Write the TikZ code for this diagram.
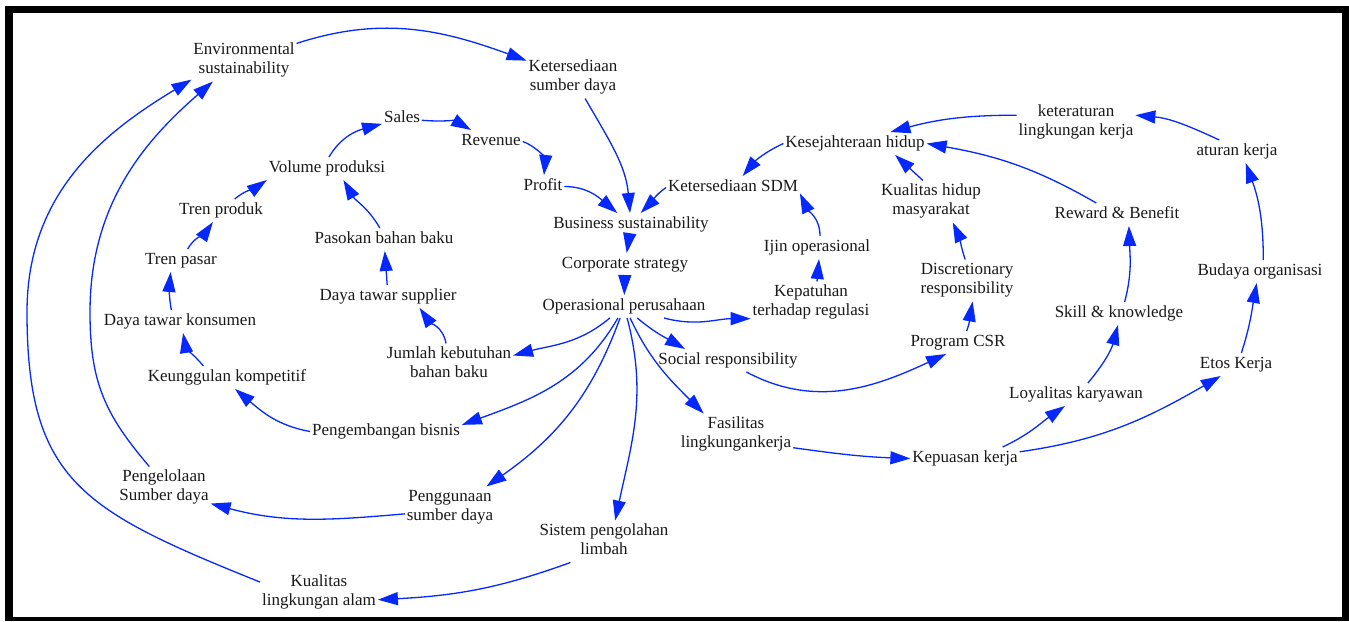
\documentclass[tikz,border=0pt]{standalone}
\usepackage{fontspec}
\setmainfont{Liberation Serif}
\usetikzlibrary{arrows.meta}
\definecolor{linkblue}{RGB}{5,40,255}
\definecolor{txt}{RGB}{25,25,25}
\tikzset{
  v/.style={align=center, inner sep=2pt, outer sep=0pt, font=\fontsize{17}{19}\selectfont, text=txt, yshift=-2.5pt},
  lk/.style={draw=linkblue, line width=1.3pt, -{Triangle[length=20pt,width=13pt,fill=linkblue]}},
}
\begin{document}
\begin{tikzpicture}[x=1pt,y=-1pt]
\useasboundingbox (0,0) rectangle (1349,621);
\fill[white] (0,0) rectangle (1349,621);
\fill[black] (4.5,5.5) rectangle (1349,621);
\fill[white] (12.7,13) rectangle (1341.7,617);

% nodes
\node[v] (env) at (244,58) {Environmental\strut\\sustainability\strut};
\node[v] (ksd) at (573,75) {Ketersediaan\strut\\sumber daya\strut};
\node[v] (sales) at (402,116) {Sales\strut};
\node[v] (rev) at (491,139) {Revenue\strut};
\node[v] (profit) at (543,184) {Profit\strut};
\node[v] (bs) at (631,222) {Business sustainability\strut};
\node[v] (cs) at (625,262) {Corporate strategy\strut};
\node[v] (op) at (624,304) {Operasional perusahaan\strut};
\node[v] (sdm) at (733,185) {Ketersediaan SDM\strut};
\node[v] (kh) at (855,141) {Kesejahteraan hidup\strut};
\node[v] (klk) at (1076,120) {keteraturan\strut\\lingkungan kerja\strut};
\node[v] (at) at (1237,149) {aturan kerja\strut};
\node[v] (khm) at (931,199) {Kualitas hidup\strut\\masyarakat\strut};
\node[v] (rb) at (1117,212) {Reward \& Benefit\strut};
\node[v] (ijin) at (817,245) {Ijin operasional\strut};
\node[v] (kep) at (811,300) {Kepatuhan\strut\\terhadap regulasi\strut};
\node[v] (dr) at (967,278) {Discretionary\strut\\responsibility\strut};
\node[v] (bo) at (1260,269) {Budaya organisasi\strut};
\node[v] (sk) at (1119,311) {Skill \& knowledge\strut};
\node[v] (csr) at (958,340) {Program CSR\strut};
\node[v] (ek) at (1236,362) {Etos Kerja\strut};
\node[v] (ly) at (1076,392) {Loyalitas karyawan\strut};
\node[v] (kk) at (965,456) {Kepuasan kerja\strut};
\node[v] (fas) at (736,432) {Fasilitas\strut\\lingkungankerja\strut};
\node[v] (sr) at (728,358) {Social responsibility\strut};
\node[v] (jkb) at (449,362) {Jumlah kebutuhan\strut\\bahan baku\strut};
\node[v] (pb) at (386,429) {Pengembangan bisnis\strut};
\node[v] (pgs) at (450,505) {Penggunaan\strut\\sumber daya\strut};
\node[v] (spl) at (604,539) {Sistem pengolahan\strut\\limbah\strut};
\node[v] (kla) at (319,590) {Kualitas\strut\\lingkungan alam\strut};
\node[v] (pel) at (164,485) {Pengelolaan\strut\\Sumber daya\strut};
\node[v] (ku) at (227,375) {Keunggulan kompetitif\strut};
\node[v] (dtk) at (180,319) {Daya tawar konsumen\strut};
\node[v] (tpasar) at (181,258) {Tren pasar\strut};
\node[v] (tprod) at (221,208) {Tren produk\strut};
\node[v] (vol) at (327,166) {Volume produksi\strut};
\node[v] (pbb) at (384,237) {Pasokan bahan baku\strut};
\node[v] (dts) at (388,294) {Daya tawar supplier\strut};

% links
\draw[lk] (env) to[out=18,in=160] (ksd);
\draw[lk] (ksd) to[out=-60,in=95] (bs);
\draw[lk] (sales) to[out=-5,in=150] (rev);
\draw[lk] (rev.east) to[out=-20,in=85] (profit);
\draw[lk] (profit.east) to[out=0,in=140] (bs);
\draw[lk] (sdm.west) to[out=-145,in=45] (bs.50);
\draw[lk] (bs) -- (cs);
\draw[lk] (cs) -- (op);
\draw[lk] (vol.80) to[out=60,in=195] (sales);
\draw[lk] (tprod) to[out=40,in=215] (vol.south west);
\draw[lk] (tpasar) to[out=60,in=235] (tprod);
\draw[lk] (dtk.127) to[out=100,in=-95] (tpasar.228);
\draw[lk] (ku.154) to[out=130,in=-80] (dtk.-75);
\draw[lk] (pb.west) to[out=170,in=-40] (ku.-55);
\draw[lk] (pbb.110) to[out=120,in=-60] (vol.-35);
\draw[lk] (dts) -- (pbb);
\draw[lk] (jkb.98) to[out=100,in=-55] (dts.-20);
\draw[lk] (op.-141) to[out=-140,in=15] (jkb.8);
\draw[lk] (op.-118) to[out=-120,in=20] (pb.5);
\draw[lk] (op.-109) to[out=-110,in=35] (pgs.30);
\draw[lk] (op.-75) to[out=-75,in=78] (spl.62);
\draw[lk] (op.-62) to[out=-65,in=135] (fas.147);
\draw[lk] (op.-41) to[out=-40,in=150] (sr.165);
\draw[lk] (op.-16) to[out=-15,in=180] (kep.195);
\draw[lk] ([xshift=6pt]kep.north) -- ([xshift=2pt]ijin.south);
\draw[lk] ([xshift=3pt]ijin.north) to[out=90,in=-65] (sdm.-5);
\draw[lk] (kh.west) to[out=205,in=50] (sdm.50);
\draw[lk] (khm.111) -- (kh.-16);
\draw[lk] (klk.173) to[out=180,in=15] (kh.18);
\draw[lk] (rb.151) to[out=150,in=-10] (kh.east);
\draw[lk] (at.147) to[out=155,in=-5] (klk.7);
\draw[lk] (bo.74) to[out=90,in=-70] (at.-53);
\draw[lk] (ek.65) to[out=72,in=-100] (bo.-106);
\draw[lk] (dr.95) to[out=108,in=-65] (khm.-44);
\draw[lk] (csr.53) to[out=70,in=-100] (dr.-75);
\draw[lk] (sr.-32) to[out=-28,in=205] (csr.-136);
\draw[lk] (fas.-13) to[out=-8,in=178] (kk.west);
\draw[lk] (kk.17) to[out=25,in=215] (ly.-134);
\draw[lk] (kk.7) to[out=8,in=210] (ek.-143);
\draw[lk] (ly.44) to[out=50,in=-105] (sk.-95);
\draw[lk] (sk.64) to[out=75,in=-88] (rb.-44);
\draw[lk] (pgs.188) to[out=185,in=-15] (pel.-19);
\draw[lk] (spl.-148) to[out=-160,in=3] (kla.-7);
\draw[lk] (pel.125) .. controls (104.5,414) and (90,382) .. (90,312) .. controls (90,202) and (147,139) .. (env.-146);
\draw[lk] (kla.170) .. controls (84,511) and (27,482) .. (27,312) .. controls (27,192) and (105,132) .. (env.200);
\end{tikzpicture}
\end{document}
